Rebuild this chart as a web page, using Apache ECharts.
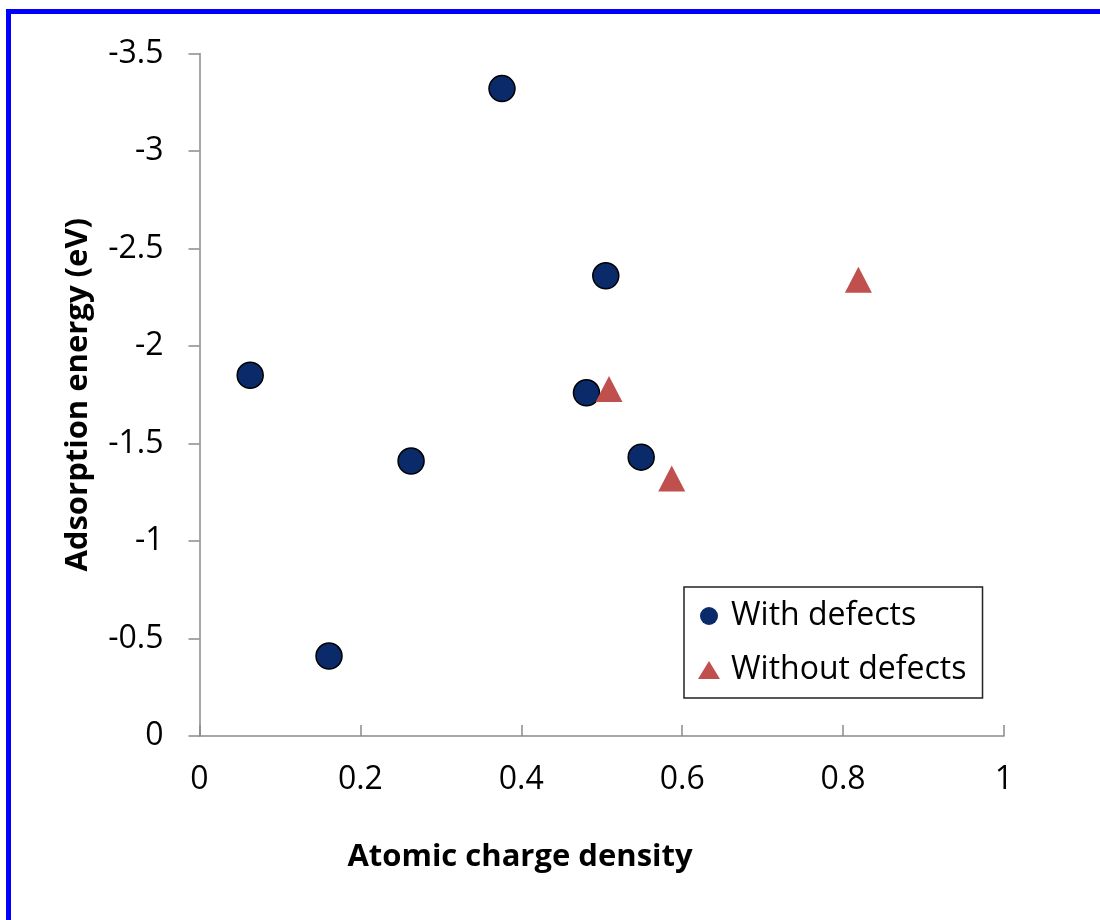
<!DOCTYPE html>
<html>
<head>
<meta charset="utf-8">
<script src="https://cdn.jsdelivr.net/npm/echarts@6/dist/echarts.min.js"></script>
<style>
html,body{margin:0;padding:0;background:#fff;}
#chart{width:1100px;height:920px;}
</style>
</head>
<body>
<div id="chart"></div>
<script>
var withDefectsX = [0.063, 0.161, 0.263, 0.376, 0.505, 0.481, 0.549];
var withDefectsY = [-1.85, -0.41, -1.41, -3.32, -2.36, -1.76, -1.43];
var withoutDefectsX = [0.509, 0.587, 0.819];
var withoutDefectsY = [-1.78, -1.32, -2.34];
var seriesNames = ['With defects', 'Without defects'];
var xTitle = 'Atomic charge density';
var yTitle = 'Adsorption energy (eV)';

function pairs(xs, ys) { return xs.map(function (x, i) { return [x, ys[i]]; }); }

var font = 'Open Sans';
var axisColor = '#8a8a8a';
var chart = echarts.init(document.getElementById('chart'));
chart.setOption({
  backgroundColor: '#ffffff',
  animation: false,
  grid: { left: 199.5, right: 96, top: 53.5, bottom: 184, containLabel: false },
  xAxis: {
    type: 'value', min: 0, max: 1, interval: 0.2,
    axisLine: { lineStyle: { color: axisColor, width: 1.5 } },
    axisTick: { show: true, inside: true, length: 11, lineStyle: { color: axisColor, width: 1.5 } },
    splitLine: { show: false },
    axisLabel: { color: '#000', fontFamily: font, fontSize: 32, margin: 28 }
  },
  yAxis: {
    type: 'value', min: -3.5, max: 0, interval: 0.5, inverse: true,
    name: yTitle, nameLocation: 'middle', nameGap: 106, nameRotate: 90,
    nameTextStyle: { color: '#000', fontFamily: font, fontSize: 31, fontWeight: 'bold' },
    axisLine: { show: true, lineStyle: { color: axisColor, width: 1.5 } },
    axisTick: { show: true, inside: false, length: 11, lineStyle: { color: axisColor, width: 1.5 } },
    splitLine: { show: false },
    axisLabel: { color: '#000', fontFamily: font, fontSize: 32, margin: 36 }
  },
  legend: {
    orient: 'vertical', left: 684, top: 587,
    padding: [13, 16, 12, 14],
    itemGap: 22, itemWidth: 22, itemHeight: 18,
    borderColor: '#222', borderWidth: 1.5,
    textStyle: { color: '#000', fontFamily: font, fontSize: 32, padding: [0, 0, 0, 6] },
    data: [
      { name: seriesNames[0], icon: 'circle', itemStyle: { borderWidth: 0 } },
      { name: seriesNames[1], icon: 'triangle' }
    ]
  },
  graphic: [
    { type: 'rect', shape: { x: 6, y: 9, width: 1094, height: 5 }, style: { fill: '#0000ff' } },
    { type: 'rect', shape: { x: 6, y: 9, width: 5, height: 911 }, style: { fill: '#0000ff' } },
    { type: 'text', style: { text: xTitle, x: 520, y: 857, textAlign: 'center', textVerticalAlign: 'middle', fill: '#000', font: 'bold 31px "Open Sans"' } }
  ],
  series: [
    {
      name: seriesNames[0], type: 'scatter', symbol: 'circle', symbolSize: 26,
      itemStyle: { color: '#0a2a6a', borderColor: '#000', borderWidth: 1.5, opacity: 1 },
      data: pairs(withDefectsX, withDefectsY)
    },
    {
      name: seriesNames[1], type: 'scatter', symbol: 'triangle', symbolSize: [27, 26],
      itemStyle: { color: '#c0504d', opacity: 1 },
      data: pairs(withoutDefectsX, withoutDefectsY)
    }
  ]
});
</script>
</body>
</html>
